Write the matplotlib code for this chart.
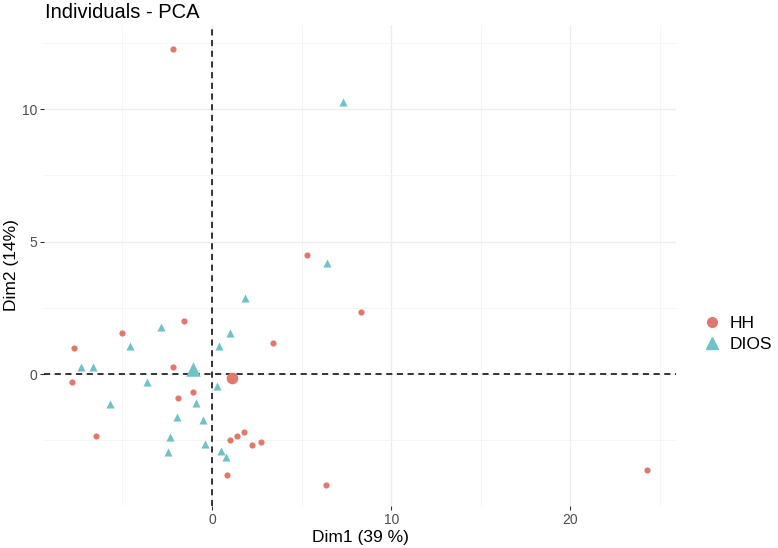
import matplotlib
matplotlib.use("Agg")
import matplotlib.pyplot as plt
from matplotlib.lines import Line2D

plt.rcParams['font.family'] = ['Liberation Sans', 'DejaVu Sans']

# individui del gruppo HH
hh_x = [-2.19, 5.28, 8.3, 3.42, -1.54, -5.04, -7.7, -2.16, -7.81, -1.08,
        -1.88, -6.49, 1.77, 1.38, 0.99, 2.25, 2.73, 0.82, 6.34, 24.26]
hh_y = [12.25, 4.49, 2.33, 1.16, 2.0, 1.53, 1.0, 0.28, -0.31, -0.68,
        -0.89, -2.33, -2.18, -2.35, -2.5, -2.67, -2.58, -3.82, -4.19, -3.61]
# individui del gruppo DIOS
dios_x = [7.29, 6.4, 1.84, -2.83, 1.0, -4.58, 0.39, -7.33, -6.64, -3.65,
          0.26, -5.69, -0.87, -1.93, -0.52, -2.33, -0.39, -2.46, 0.5, 0.8]
dios_y = [10.27, 4.2, 2.86, 1.76, 1.56, 1.07, 1.07, 0.25, 0.25, -0.29,
          -0.44, -1.14, -1.09, -1.61, -1.74, -2.37, -2.63, -2.95, -2.92, -3.12]
# baricentri dei gruppi
centri_x = [1.1, -1.04]
centri_y = [-0.16, 0.18]
gruppi = ["HH", "DIOS"]

ROSSO = "#E2776E"
VERDE = "#6FC3C8"

fig = plt.figure(figsize=(7.78, 5.48), dpi=100)
W, H = 778, 548
ax = fig.add_axes([44 / W, (H - 506) / H, (676 - 44) / W, (506 - 25) / H])

ax.scatter(hh_x, hh_y, s=20, c=ROSSO, marker="o", linewidths=0, zorder=3)
ax.scatter(dios_x, dios_y, s=34, c=VERDE, marker="^", linewidths=0, zorder=3)
ax.scatter(centri_x[0], centri_y[0], s=70, c=ROSSO, marker="o", linewidths=0, zorder=4)
ax.scatter(centri_x[1], centri_y[1], s=110, c=VERDE, marker="^", linewidths=0, zorder=4)

ax.axhline(0, color="black", lw=1.1, ls=(0, (4, 3)), zorder=2)
ax.axvline(0, color="black", lw=1.1, ls=(0, (4, 3)), zorder=2)

ax.set_xlim(-9.375, 25.89)
ax.set_ylim(-4.98, 13.17)
ax.set_xticks([0, 10, 20])
ax.set_yticks([0, 5, 10])
ax.set_xticks([-5, 5, 15, 25], minor=True)
ax.set_yticks([-2.5, 2.5, 7.5, 12.5], minor=True)
ax.grid(which="major", color="#EDEDED", lw=0.9)
ax.grid(which="minor", color="#F4F4F4", lw=0.6)
ax.set_axisbelow(True)
for s in ax.spines.values():
    s.set_visible(False)
ax.tick_params(which="major", length=3, color="#333333", labelsize=10,
               labelcolor="#4D4D4D", pad=2)
ax.tick_params(which="minor", length=0)

ax.set_xlabel("Dim1 (39 %)", fontsize=12.5, labelpad=2)
ax.set_ylabel("Dim2 (14%)", fontsize=12.5, labelpad=2)
fig.text(45 / W, 1 - 12 / H, "Individuals - PCA", fontsize=14.5, va="center", ha="left")

handles = [Line2D([], [], ls="", marker="o", color=ROSSO, markersize=7),
           Line2D([], [], ls="", marker="^", color=VERDE, markersize=9)]
fig.legend(handles, gruppi, loc="center left", bbox_to_anchor=(702 / W, 1 - 334 / H),
           frameon=False, fontsize=12.5, handlelength=1.2, handletextpad=0.4,
           labelspacing=0.35, borderaxespad=0, borderpad=0)

fig.savefig("out.png", dpi=100)
